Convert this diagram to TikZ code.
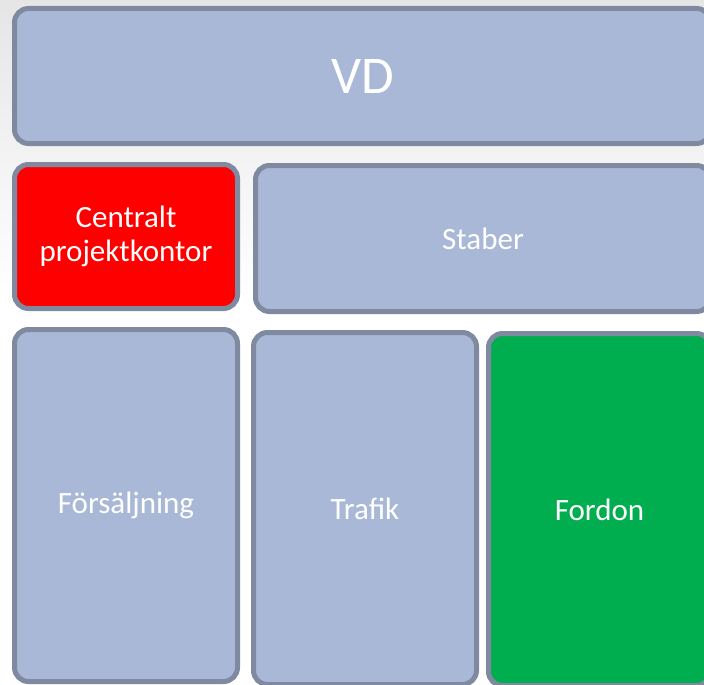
\documentclass[tikz,border=0pt]{standalone}
\usepackage{fontspec}
\setmainfont{Carlito}
\definecolor{boxblue}{HTML}{A9B8D6}
\definecolor{boxline}{HTML}{7F8AA1}
\definecolor{kontorred}{HTML}{FF0000}
\definecolor{fordongreen}{HTML}{00AE4F}

\begin{document}
\begin{tikzpicture}[x=1pt,y=-1pt]
	\tikzstyle{unit}=[rectangle,rounded corners=14pt,draw=boxline,line width=5pt,fill=boxblue,text=white,align=center,inner sep=0pt,font=\fontsize{31}{34}\selectfont]
	\tikzstyle{kontor}=[unit, fill=kontorred];
	\tikzstyle{fordon}=[unit, fill=fordongreen];
	\useasboundingbox (0,0) rectangle (704,685);
	\clip (0,0) rectangle (704,685);
	\shade[top color=black!10,bottom color=white] (0,0) rectangle (704,300);
	\fill[white] (0,300) rectangle (704,685);
	% top row
	\node[unit,minimum width=696pt,minimum height=135pt,font=\fontsize{53}{60}\selectfont](vd) at (362.5,76){VD};
	% second row
	\node[kontor,minimum width=223pt,minimum height=144pt](cpk) at (126,236.5){Centralt\\projektkontor};
	\node[unit,minimum width=455pt,minimum height=146pt](staber) at (483,238.5){Staber};
	% bottom row
	\node[unit,minimum width=223pt,minimum height=352pt](forsaljning) at (126,505.5){Försäljning};
	\node[unit,minimum width=223pt,minimum height=352pt](trafik) at (365,508.5){Trafik};
	\node[fordon,minimum width=222pt,minimum height=352pt](fordon) at (599.5,509.5){Fordon};
\end{tikzpicture}
\end{document}
